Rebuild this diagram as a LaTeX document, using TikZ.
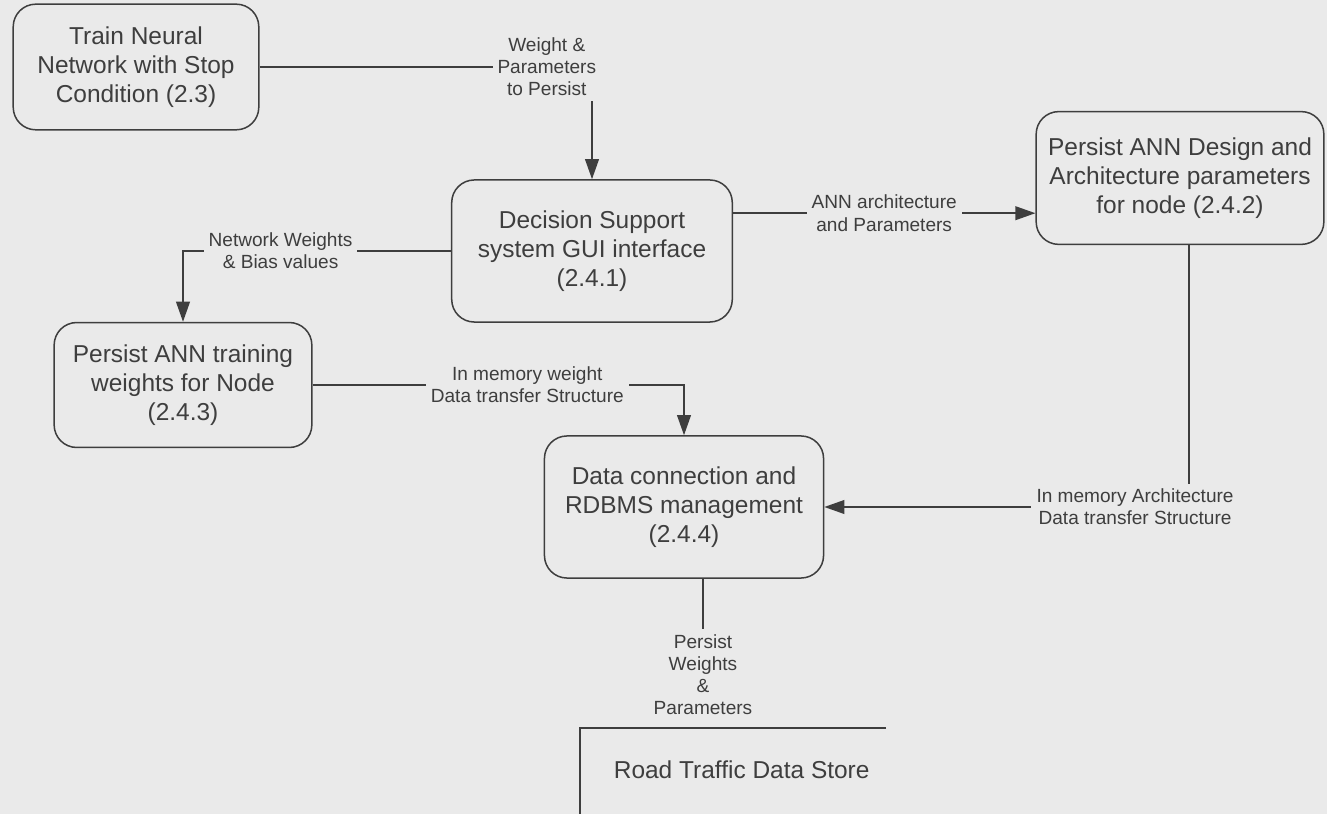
\documentclass[tikz,border=0pt]{standalone}
\usepackage{fontspec}
\setmainfont{Liberation Sans}
\usetikzlibrary{arrows.meta}
\definecolor{paper}{RGB}{234,234,234}
\definecolor{ink}{RGB}{62,62,62}

\begin{document}
\begin{tikzpicture}[x=0.014cm, y=-0.014cm,
    process/.style={draw=ink, line width=0.6pt, rounded corners=9pt, align=center,
      text=ink, inner sep=0pt, font=\fontsize{9.75}{11.6}\selectfont},
    flowlabel/.style={fill=paper, text=ink, align=center, inner sep=2pt,
      font=\fontsize{7.6}{8.8}\selectfont},
    flow/.style={draw=ink, line width=0.6pt, -{Triangle[length=8pt,width=5.5pt]}},
    link/.style={draw=ink, line width=0.6pt}]

      \fill[paper] (0,0) rectangle (1327,814);
      \useasboundingbox (0,0) rectangle (1327,814);

      \node[process, minimum width=3.44cm, minimum height=1.76cm] (train) at (136,67)
        {Train Neural\\Network with Stop\\Condition (2.3)};
      \node[process, minimum width=3.93cm, minimum height=1.99cm] (dss) at (592,251)
        {Decision Support\\system GUI interface\\(2.4.1)};
      \node[process, minimum width=4.03cm, minimum height=1.86cm] (design) at (1180,178)
        {Persist ANN Design and\\Architecture parameters\\for node (2.4.2)};
      \node[process, minimum width=3.61cm, minimum height=1.75cm] (training) at (183,385)
        {Persist ANN training\\weights for Node\\(2.4.3)};
      \node[process, minimum width=3.91cm, minimum height=1.99cm] (rdbms) at (684,507)
        {Data connection and\\RDBMS management\\(2.4.4)};

      \node[flowlabel] (persist) at (703,675) {Persist\\Weights\\\&\\Parameters};
      \node[anchor=west, text=ink, font=\fontsize{9.75}{11.6}\selectfont] (store) at (605,770)
        {Road Traffic Data Store};

      \draw[flow] (train.east) -| node[flowlabel, pos=0.432] {Weight \&\\Parameters\\to Persist} (dss.north);
      \draw[flow] (dss.west) -| node[flowlabel, pos=0.318] {Network Weights\\\& Bias values} (training.north);
      \draw[flow] (dss.15) -- node[flowlabel] {ANN architecture\\and Parameters} (dss.15 -| design.west);
      \draw[flow] (training.east) -| node[flowlabel, pos=0.289] {In memory weight\\Data transfer Structure} (rdbms.north);
      \draw[flow] ([xshift=3.6pt]design.south) |- node[flowlabel, pos=0.574] {In memory Architecture\\Data transfer Structure} (rdbms.east);
      \draw[link] (rdbms.south -| persist.north) -- (persist.north);

      \draw[link] (886,728) -- (580,728) -- (580,814);
\end{tikzpicture}
\end{document}
